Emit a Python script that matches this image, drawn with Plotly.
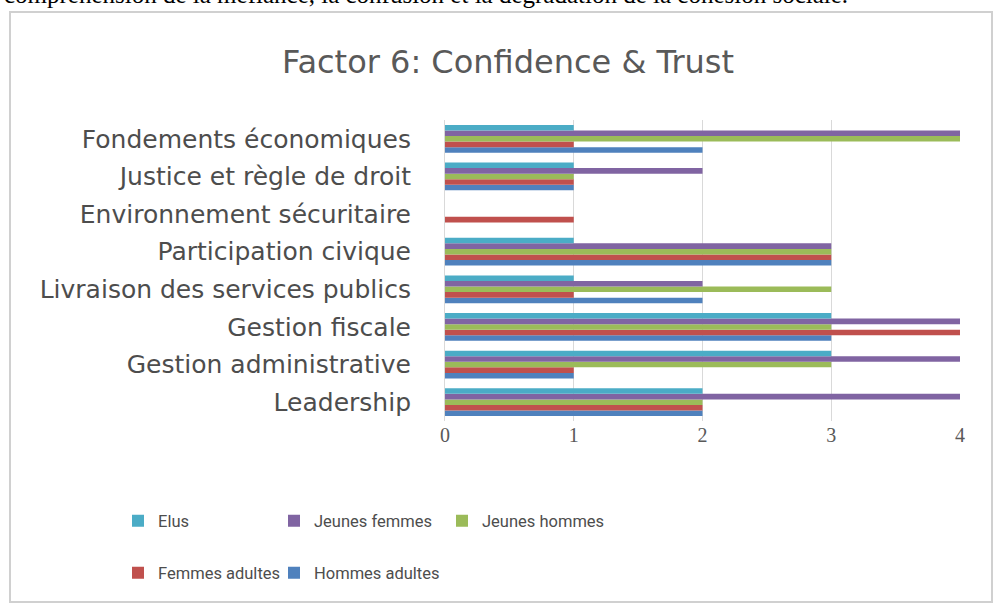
import plotly.graph_objects as go

categories = ["Leadership", "Gestion administrative", "Gestion fiscale",
              "Livraison des services publics", "Participation civique",
              "Environnement sécuritaire", "Justice et règle de droit",
              "Fondements économiques"]

elus = [2, 3, 3, 1, 1, 0, 1, 1]
jeunes_femmes = [4, 4, 4, 2, 3, 0, 2, 4]
jeunes_hommes = [2, 3, 3, 3, 3, 0, 1, 4]
femmes_adultes = [2, 1, 4, 1, 3, 1, 1, 1]
hommes_adultes = [2, 1, 3, 2, 3, 0, 1, 2]

x_ticks = [0, 1, 2, 3, 4]

series = [
    ("Hommes adultes", hommes_adultes, "#4F81BD"),
    ("Femmes adultes", femmes_adultes, "#C0504D"),
    ("Jeunes hommes", jeunes_hommes, "#9BBB59"),
    ("Jeunes femmes", jeunes_femmes, "#8064A2"),
    ("Elus", elus, "#4BACC6"),
]

# legend positions (pixels in the 997x607 page)
legend_pos = {
    "Elus": (118, 521, "legend"),
    "Jeunes femmes": (274, 521, "legend2"),
    "Jeunes hommes": (442, 521, "legend3"),
    "Femmes adultes": (118, 573, "legend4"),
    "Hommes adultes": (274, 573, "legend5"),
}

W, H = 997, 607
fig = go.Figure()
for name, vals, col in series:
    fig.add_trace(go.Bar(
        y=categories, x=vals, name=name, orientation="h",
        marker=dict(color=col, line=dict(width=0)),
        legend=legend_pos[name][2],
    ))

L, R, T, B = 445, 960, 120, 421

layout_legends = {}
for name, (px, py, key) in legend_pos.items():
    layout_legends[key] = dict(
        xref="container", yref="container",
        x=px / W, y=1 - py / H, xanchor="left", yanchor="middle",
        orientation="h", bgcolor="rgba(0,0,0,0)", borderwidth=0,
        font=dict(family="Roboto", size=16.5, color="#4d4d4d"),
        itemwidth=30,
    )

fig.update_layout(
    width=W, height=H,
    margin=dict(l=L, r=W - R, t=T, b=H - B),
    paper_bgcolor="white", plot_bgcolor="white",
    barmode="group", bargap=0.26, bargroupgap=0,
    showlegend=True,
    title=dict(text="Factor 6: Confidence & Trust", xref="container", yref="container",
               x=508 / W, y=1 - 62 / H, xanchor="center", yanchor="middle",
               font=dict(family="DejaVu Sans", size=32, color="#595959")),
    xaxis=dict(range=[0, 4], tickvals=x_ticks, showgrid=True, gridcolor="#D9D9D9",
               gridwidth=1, zeroline=False, showline=False,
               tickfont=dict(family="Liberation Serif", size=20, color="#595959"),
               ticks="", ticklabelstandoff=0, fixedrange=True),
    yaxis=dict(categoryorder="array", categoryarray=categories, range=[-0.5, 7.5],
               showgrid=False, zeroline=False, showline=True, linecolor="#D9D9D9",
               tickfont=dict(family="DejaVu Sans", size=25, color="#4d4d4d"),
               ticks="", ticklabelstandoff=28, fixedrange=True),
    **layout_legends,
)

# chart frame
def px2x(px):
    return (px - L) / (R - L)

def py2y(py):
    return (B - py) / (B - T)

fig.add_shape(type="rect", xref="paper", yref="paper",
              x0=px2x(10), x1=px2x(992), y0=py2y(602), y1=py2y(12),
              line=dict(color="#D0D0D0", width=2), fillcolor="rgba(0,0,0,0)", layer="below")

# partial line of text from the page above
fig.add_annotation(text="compréhension de la méfiance, la confusion et la dégradation de la cohésion sociale.",
                   xref="paper", yref="paper", x=px2x(2), y=py2y(10), xanchor="left", yanchor="bottom",
                   showarrow=False, font=dict(family="Liberation Serif", size=25, color="black"))

fig.write_html("out.html")
